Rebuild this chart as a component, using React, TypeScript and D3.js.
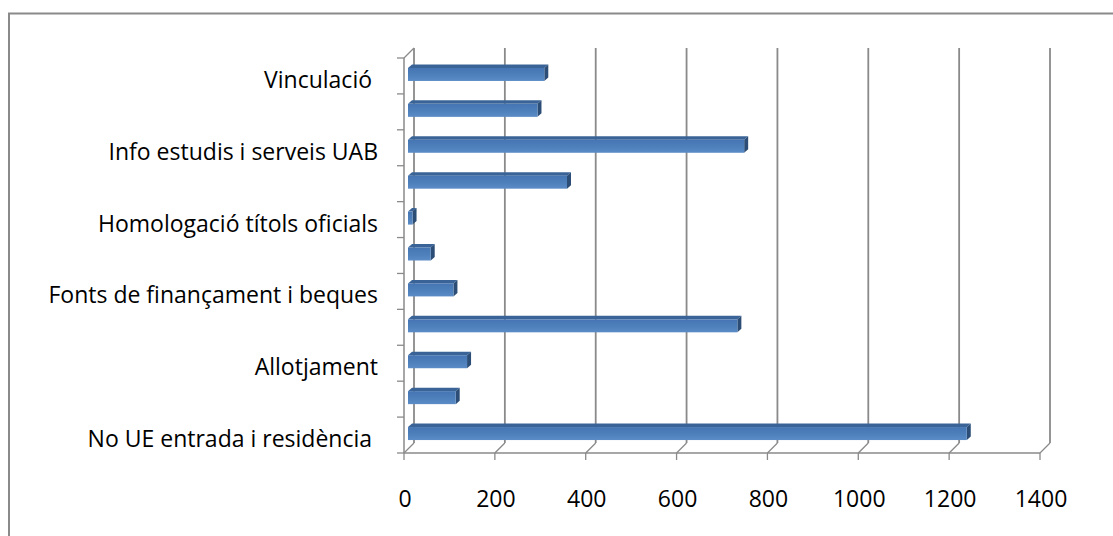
import * as d3 from 'd3'

// categories listed top to bottom; the chart only prints every other label
const categories = [
  'Vinculació ',
  '',
  'Info estudis i serveis UAB',
  '',
  'Homologació títols oficials',
  '',
  'Fonts de finançament i beques',
  '',
  'Allotjament',
  '',
  'No UE entrada i residència ',
]
const values = [300, 285, 740, 350, 10, 50, 100, 725, 130, 105, 1230]
const xTicks = [0, 200, 400, 600, 800, 1000, 1200, 1400]

const W = 1113
const H = 536
const FONT = '"Open Sans", Lato, sans-serif'

// 3d look: back wall offset and bar depth
const wall = { dx: 10, dy: -10 }
const barDepth = { dx: 4, dy: -3.5 }

export default function App() {
  const x = d3.scaleLinear().domain([0, 1400]).range([404, 1040])
  const y = d3.scaleBand<number>().domain(d3.range(categories.length)).range([58, 453])
  const bw = y.bandwidth()
  const x0 = x(0)
  const yTop = y.range()[0]
  const yBot = y.range()[1]
  const grid = '#8a8a8a'

  const bandEdges = d3.range(categories.length + 1).map((i) => yTop + i * bw)

  return (
    <svg width={W} height={H} style={{ position: 'fixed', left: 0, top: 0, background: '#fff' }}>
      <defs>
        <linearGradient id="front" x1="0" y1="0" x2="0" y2="1">
          <stop offset="0" stopColor="#4576b3" />
          <stop offset="0.6" stopColor="#4f81bd" />
          <stop offset="1" stopColor="#5b8cc6" />
        </linearGradient>
      </defs>
      <rect x={9} y={13.5} width={W + 20} height={H + 20} fill="none" stroke={grid} strokeWidth={2} />

      {/* back wall gridlines + floor diagonals */}
      {xTicks.map((t) => (
        <g key={t}>
          <line x1={x(t) + wall.dx} x2={x(t) + wall.dx} y1={yTop + wall.dy} y2={yBot + wall.dy} stroke={grid} strokeWidth={1.8} />
          <line x1={x(t)} y1={yBot} x2={x(t) + wall.dx} y2={yBot + wall.dy} stroke={grid} strokeWidth={1.3} />
          <line x1={x(t)} x2={x(t)} y1={yBot} y2={yBot + 7} stroke={grid} strokeWidth={1.3} />
          <text x={x(t) + 1} y={507} textAnchor="middle" fontFamily={FONT} fontSize={23} fill="#000">
            {t}
          </text>
        </g>
      ))}
      <line x1={x0} y1={yTop} x2={x0 + wall.dx} y2={yTop + wall.dy} stroke={grid} strokeWidth={1.3} />

      {/* front axes */}
      <line x1={x0} x2={x0} y1={yTop} y2={yBot} stroke={grid} strokeWidth={1.5} />
      <line x1={x0} x2={x(1400)} y1={yBot} y2={yBot} stroke={grid} strokeWidth={1.5} />
      {bandEdges.map((e, i) => (
        <line key={i} x1={x0 - 7} x2={x0} y1={e} y2={e} stroke={grid} strokeWidth={1.3} />
      ))}

      {/* bars */}
      {values.map((v, i) => {
        const c = (y(i) ?? 0) + bw / 2
        const top = c - 8
        const bot = c + 5
        const bx0 = x0 + 4
        const bx1 = x(v) + 4
        const { dx, dy } = barDepth
        return (
          <g key={i}>
            <path d={`M${bx0},${top}L${bx0 + dx},${top + dy}L${bx1 + dx},${top + dy}L${bx1},${top}Z`} fill="#3a6497" />
            <path d={`M${bx1},${top}L${bx1 + dx},${top + dy}L${bx1 + dx},${bot + dy}L${bx1},${bot}Z`} fill="#2c4d75" />
            <rect x={bx0} y={top} width={bx1 - bx0} height={bot - top} fill="url(#front)" />
          </g>
        )
      })}

      {/* category labels */}
      {categories.map((c, i) =>
        c ? (
          <text
            key={i}
            x={378}
            y={(y(i) ?? 0) + bw / 2 + 12}
            textAnchor="end"
            fontFamily={FONT}
            fontSize={23}
            fill="#000"
            style={{ whiteSpace: 'pre' }}
          >
            {c}
          </text>
        ) : null
      )}
    </svg>
  )
}
